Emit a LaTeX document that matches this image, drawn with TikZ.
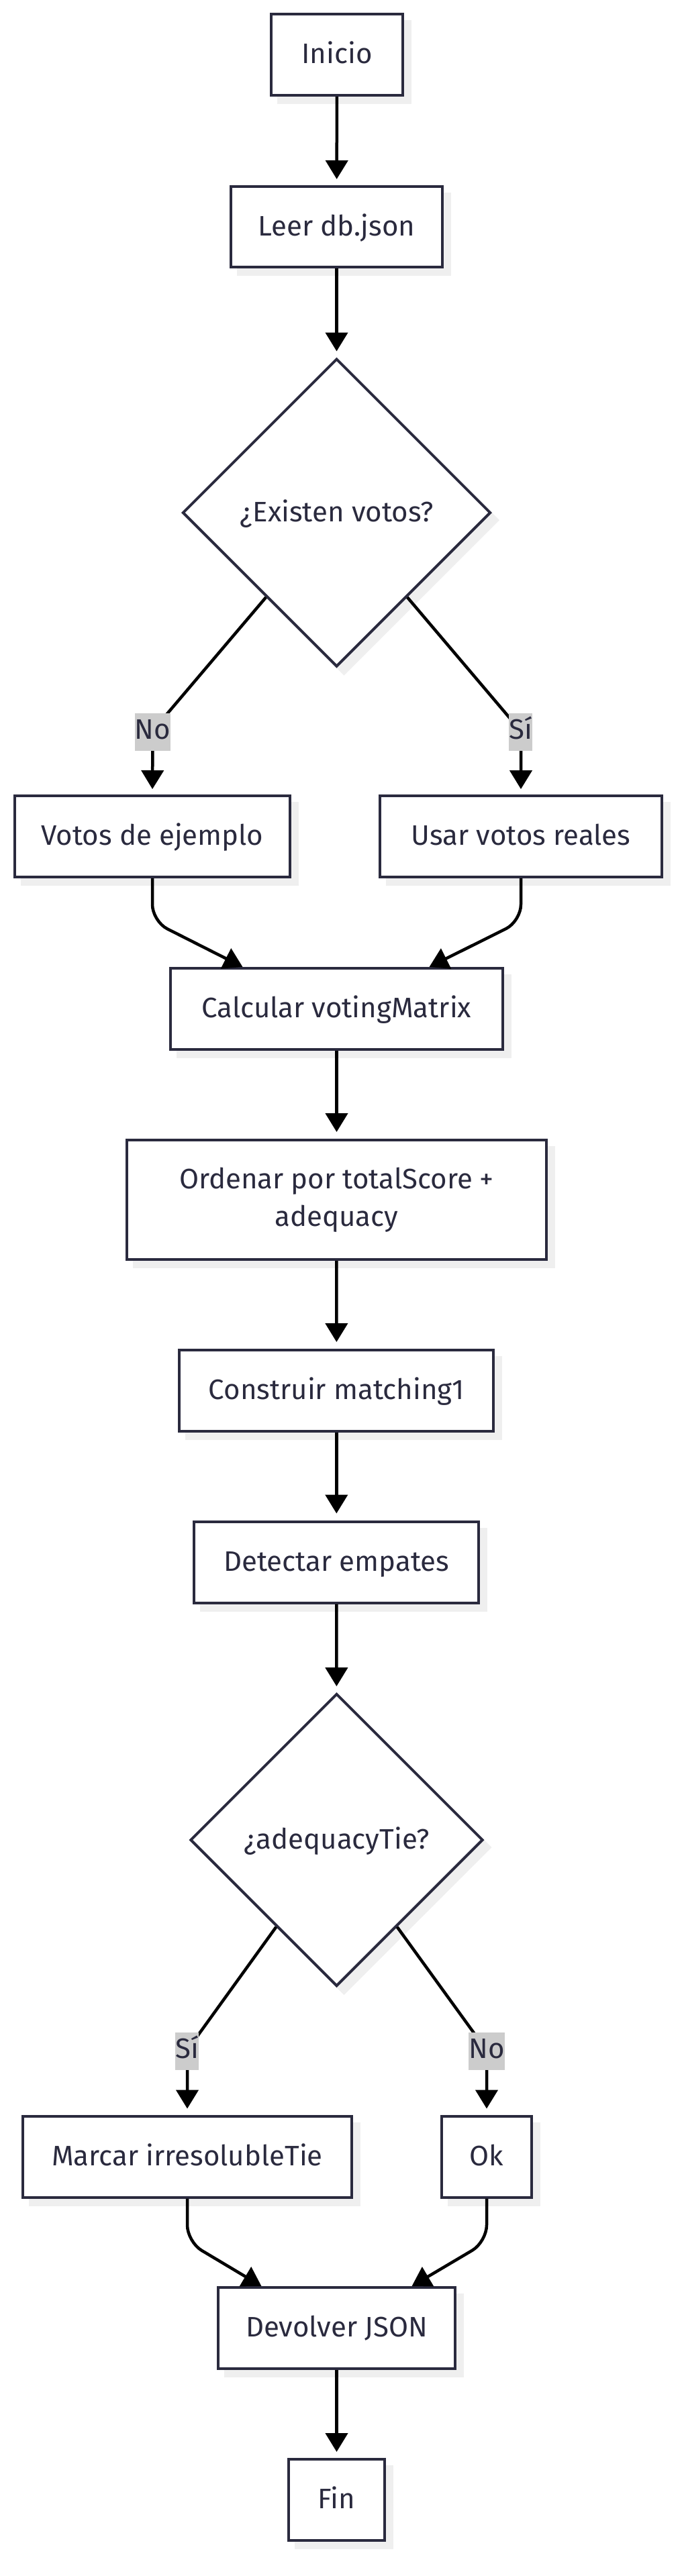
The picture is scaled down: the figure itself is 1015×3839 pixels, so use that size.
\documentclass[tikz,border=0pt]{standalone}
\usepackage{fontspec}
\setmainfont{Fira Sans}
\usetikzlibrary{shapes.geometric,arrows.meta,shadows,calc}
\definecolor{ink}{RGB}{42,42,62}
\definecolor{shad}{RGB}{239,239,239}
\definecolor{lblbg}{RGB}{204,204,204}
\newcommand\fsz{\fontsize{42}{52}\selectfont}
\begin{document}
\begin{tikzpicture}[x=1pt,y=-1pt,
  shadowed/.style={general shadow={fill=shad, draw=shad, shadow xshift=11pt, shadow yshift=-11pt}},
  box/.style={shadowed, draw=ink, line width=4pt, fill=white, text=ink, font=\fsz,
    inner sep=0pt, minimum height=121pt, text height=30pt, text depth=4pt},
  dia/.style={shadowed, diamond, aspect=1, draw=ink, line width=4pt, fill=white, text=ink, font=\fsz,
    inner sep=0pt, text height=30pt, text depth=4pt},
  arr/.style={draw=black, line width=4.5pt, -{Triangle[length=28pt,width=33pt]}},
  lbl/.style={fill=lblbg, text=ink, font=\fsz, inner xsep=0pt, inner ysep=0pt,
    minimum height=56pt, text height=26pt, text depth=4.6pt}
]
\useasboundingbox (0,0) rectangle (1015,3839);

% nodes
\node[box, minimum width=196pt] (inicio) at (502,81.5) {Inicio};
\node[box, minimum width=315pt, minimum height=120pt] (leer) at (501.5,338) {Leer db.json};
\node[dia, minimum width=459pt, minimum height=459pt] (d1) at (501.5,764) {¿Existen votos?};
\node[box, minimum width=410pt] (votos) at (227,1246.5) {Votos de ejemplo};
\node[box, minimum width=420pt] (usar) at (776,1246.5) {Usar votos reales};
\node[box, minimum width=495pt] (calc) at (501.5,1503.5) {Calcular votingMatrix};
\node[box, minimum width=625pt, minimum height=178pt, text depth=63pt,
  font=\fontsize{42}{55.5}\selectfont] (ord) at (501.5,1788)
  {\begin{tabular}[t]{@{}c@{}}Ordenar por totalScore +\\adequacy\end{tabular}};
\node[box, minimum width=468pt] (cons) at (501.3,2072.5) {Construir matching1};
\node[box, minimum width=424pt] (det) at (501.3,2328) {Detectar empates};
\node[dia, minimum width=436pt, minimum height=436pt] (d2) at (501.5,2742) {¿adequacyTie?};
\node[box, minimum width=490pt] (marcar) at (279,3214) {Marcar irresolubleTie};
\node[box, minimum width=134pt] (ok) at (725,3214) {Ok};
\node[box, minimum width=353pt] (dev) at (501.5,3469.5) {Devolver JSON};
\node[box, minimum width=143pt] (fin) at (501.5,3725.5) {Fin};

% connectors
\draw[arr, shorten >=9pt] (inicio) -- (leer);
\draw[arr, shorten >=9pt] (leer) -- (d1);
\coordinate (s1) at ($(d1.west)!0.545!(d1.south)$);
\coordinate (s2) at ($(d1.east)!0.545!(d1.south)$);
\draw[arr, shorten >=8pt] (s1) -- (242,1072) -- (227.5,1100) -- (votos.north);
\draw[arr, shorten >=8pt] (s2) -- (761,1072) -- (776,1100) -- (usar.north);
\draw[arr, rounded corners=25pt] (votos.south) -- (227,1373) -- ($(calc.north)+(-140,0)$);
\draw[arr, rounded corners=25pt] (usar.south) -- (776,1373) -- ($(calc.north)+(138,0)$);
\draw[arr, shorten >=10pt] (calc) -- (ord);
\draw[arr, shorten >=10pt] (ord) -- (cons);
\draw[arr, shorten >=10pt] (cons) -- (det);
\draw[arr, shorten >=9pt] (det) -- (d2);
\coordinate (s3) at ($(d2.west)!0.59!(d2.south)$);
\coordinate (s4) at ($(d2.east)!0.59!(d2.south)$);
\draw[arr, shorten >=9pt] (s3) -- (290,3040) -- (279,3065) -- (marcar.north);
\draw[arr, shorten >=9pt] (s4) -- (713.5,3040) -- (725,3065) -- (ok.north);
\draw[arr, rounded corners=25pt] (marcar.south) -- (279,3341) -- ($(dev.north)+(-112,0)$);
\draw[arr, rounded corners=25pt] (ok.south) -- (725,3341) -- ($(dev.north)+(112,0)$);
\draw[arr, shorten >=9pt] (dev) -- (fin);

% edge labels
\node[lbl] (lno1) at (227.5,1091) {No};
\node[lbl] (lsi1) at (775.5,1091) {Sí};
\node[lbl] (lsi2) at (278.5,3057) {Sí};
\node[lbl] (lno2) at (725,3057) {No};
\end{tikzpicture}
\end{document}
